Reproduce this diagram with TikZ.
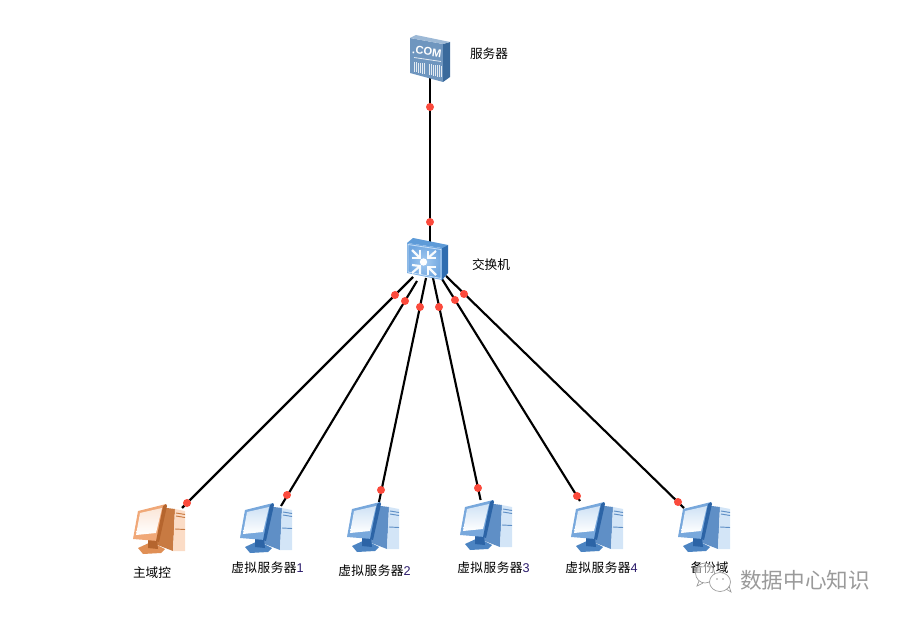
\documentclass[tikz,border=0pt]{standalone}
\usepackage{fontspec}
\setmainfont{Noto Sans CJK SC}
\newfontfamily\latinf{Liberation Sans}
\definecolor{digitc}{HTML}{2A1A6A}
\definecolor{dotc}{HTML}{FB4A3C}
\tikzset{
  link/.style={line width=1.6pt,black},
  dot/.style={circle,fill=dotc,draw=none,minimum size=6pt,inner sep=0pt},
  lab/.style={font=\fontsize{9.5}{11}\selectfont,inner sep=0pt,text=black},
  labw/.style={font=\fontsize{9.5}{11}\selectfont\addfontfeatures{LetterSpace=4},inner sep=0pt,text=black},
  icon/.style={inner sep=0pt,draw=none},
  arrw/.style={white,line width=1.6pt,line cap=butt,opacity=.95},
}
\newcommand{\pcicon}[8]{%
% #1 x #2 y #3 tower front #4 tower side #5 monitor frame #6 screen edge #7 base #8 dark
\begin{scope}[shift={(#1,#2)}]
  \fill[#4] (24,6)--(34,4)--(42,5)--(40,47)--(22,40)--cycle;
  \fill[#3] (42,5)--(52,7)--(52,47)--(40,47)--cycle;
  \draw[#4,line width=.7pt] (43,9)--(52,10.5) (43,12)--(52,13.5) (42,25)--(52,25.5);
  \fill[#7] (5,44)--(18,38)--(32,45)--(28,49)--(10,50)--cycle;
  \fill[#8] (15,33)--(24,36)--(25,45)--(15,44)--cycle;
  \fill[#5] (5,7)--(33,0)--(25,37)--(0,35)--cycle;
  \fill[#8] (33,0)--(34,2)--(26,38)--(23,37)--(30,2)--cycle;
  \shade[top color=#6,bottom color=white] (7,9)--(29,4)--(23,29)--(3,31)--cycle;
\end{scope}}
\begin{document}
\begin{tikzpicture}[x=0.75pt,y=-0.75pt]
\useasboundingbox (0,0) rectangle (900,620);
% link end coordinates
\coordinate (t1) at (430,78);
\coordinate (t2) at (430,242);
\coordinate (s1) at (413,277); \coordinate (e1) at (182,508);
\coordinate (s2) at (417,281); \coordinate (e2) at (281,506);
\coordinate (s3) at (426,278); \coordinate (e3) at (379,502);
\coordinate (s4) at (433,278); \coordinate (e4) at (480.6,500);
\coordinate (s5) at (442,279); \coordinate (e5) at (580,501);
\coordinate (s6) at (446,276); \coordinate (e6) at (684,508);
\draw[link] (t1) -- (t2);
\draw[link] (s1) -- (e1);
\draw[link] (s2) -- (e2);
\draw[link] (s3) -- (e3);
\draw[link] (s4) -- (e4);
\draw[link] (s5) -- (e5);
\draw[link] (s6) -- (e6);
% server
\definecolor{sfront}{HTML}{6F96BF}
\definecolor{sright}{HTML}{3A6A9C}
\definecolor{stop}{HTML}{9DB9D6}
\fill[sfront] (410,38)--(443,44)--(443,82)--(410,73)--cycle;
\fill[sright] (443,44)--(450,42)--(450,77)--(443,82)--cycle;
\fill[stop] (410,38)--(416,35)--(450,42)--(443,44)--cycle;
\node[icon,rotate=-8,text=white,font=\latinf\bfseries\fontsize{8.4}{9}\selectfont] (comtext) at (427,51.5) {.COM};
\draw[white!80!sfront,line width=.6pt] (414,57.5)--(441,61.5);
\foreach \xx in {414,416,...,424}{\draw[white!80!sfront,line width=.55pt] (\xx,{62+(\xx-414)*.15}) -- (\xx,{72+(\xx-414)*.2});}
\foreach \xx in {429,431,...,441}{\draw[white!80!sfront,line width=.55pt] (\xx,{64+(\xx-429)*.15}) -- (\xx,{75+(\xx-429)*.2});}
% switch
\definecolor{wfront}{HTML}{A4CAF0}
\definecolor{wedge}{HTML}{6FA6E0}
\definecolor{wright}{HTML}{2F6DB0}
\definecolor{wtop}{HTML}{5E9BD8}
\fill[wtop] (407,243)--(413,238)--(448,245)--(442,248)--cycle;
\fill[wright] (442,248)--(448,245)--(448,273)--(442,280)--cycle;
\shade[inner color=wfront,outer color=wedge] (407,243)--(442,248)--(442,280)--(407,273)--cycle;
\draw[wfront!60!white,line width=.6pt] (408,244.5)--(441,249.5)--(441,278.5)--(408,272)--cycle;
\fill[white] (423.5,262) circle (3.7);
\begin{scope}[arrw]
  \draw (412,250)--(420,258); \draw (420,250)--(420,258)--(412,258);
  \draw (436,251)--(428,258); \draw (428,251)--(428,258)--(436,258);
  \draw (412,273)--(420,266); \draw (412,265)--(420,266)--(420,274);
  \draw (436,275)--(428,267); \draw (436,267)--(428,267)--(428,275);
\end{scope}
% PCs
\definecolor{bt}{HTML}{D3E5F7}\definecolor{bs}{HTML}{5F8FC6}\definecolor{bf}{HTML}{78A8DC}
\definecolor{bc}{HTML}{CFE2F5}\definecolor{bb}{HTML}{4C84C2}\definecolor{bd}{HTML}{2C64A6}
\definecolor{ot}{HTML}{FBDCC6}\definecolor{os}{HTML}{C87A42}\definecolor{of}{HTML}{F0A878}
\definecolor{oc}{HTML}{FBE6D8}\definecolor{ob}{HTML}{E08F55}\definecolor{od}{HTML}{B5652E}
\pcicon{133}{504}{ot}{os}{of}{oc}{ob}{od}
\pcicon{240}{503}{bt}{bs}{bf}{bc}{bb}{bd}
\pcicon{347}{502}{bt}{bs}{bf}{bc}{bb}{bd}
\pcicon{460}{500}{bt}{bs}{bf}{bc}{bb}{bd}
\pcicon{571}{502}{bt}{bs}{bf}{bc}{bb}{bd}
\pcicon{678}{502}{bt}{bs}{bf}{bc}{bb}{bd}
% dots
\foreach \n/\p in {d0/{430,107},d00/{430,222},d1/{395,295},d2/{405,301},d3/{420,307},d4/{439,307},d5/{455,300},d6/{464,294},f1/{187,503},f2/{287,495},f3/{381,490},f4/{478,488},f5/{577,496},f6/{678,502}}{
  \node[dot] (\n) at (\p) {};
}
% labels
\node[lab] (l0) at (489,54) {服务器};
\node[lab] (l1) at (491,265) {交换机};
\node[lab] (p1) at (152,573) {主域控};
\node[labw] (p2) at (267.5,568) {虚拟服务器{\latinf\color{digitc}1}};
\node[labw] (p3) at (374.5,571) {虚拟服务器{\latinf\color{digitc}2}};
\node[labw] (p4) at (493.5,568) {虚拟服务器{\latinf\color{digitc}3}};
\node[labw] (p5) at (601.5,568) {虚拟服务器{\latinf\color{digitc}4}};
\node[lab] (p6) at (709.5,568) {备份域};
% watermark
\definecolor{wm}{HTML}{9A9A9A}
\draw[wm,fill=white,fill opacity=.55,line width=.5pt] (705,573) ellipse (9.5 and 10);
\draw[wm,line width=.5pt] (699,581)--(697,586)--(703,583);
\draw[wm,fill=white,line width=.5pt] (720,582) ellipse (10.5 and 9.5);
\draw[wm,line width=.5pt] (726,589)--(731,592)--(729,586);
\fill[wm] (717,579) circle (.9) (723,579) circle (.9);
\node[inner sep=0pt,text=wm,font=\fontsize{16.2}{18}\selectfont] (wmtext) at (805,580) {数据中心知识};
\end{tikzpicture}
\end{document}
